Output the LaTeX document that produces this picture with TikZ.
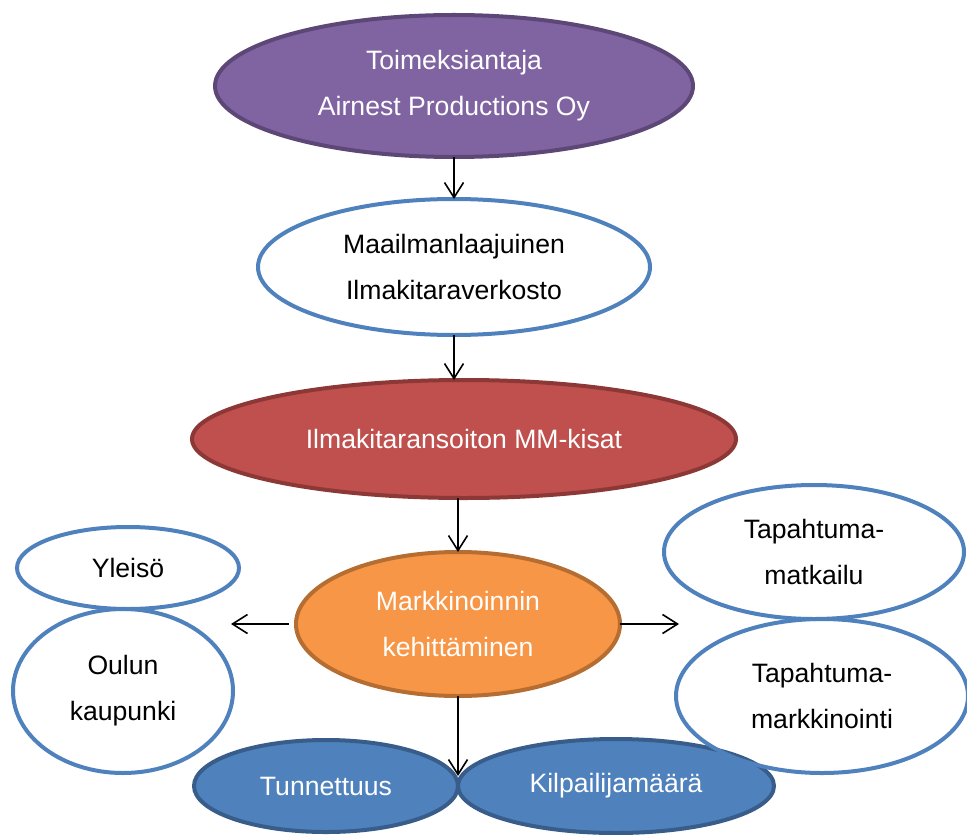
\documentclass[tikz,border=0pt]{standalone}
\usepackage{fontspec}
\setmainfont{Liberation Sans}
\usepackage{tikz}
\usetikzlibrary{positioning, arrows.meta, shapes.geometric}

\definecolor{purplefill}{HTML}{8064A2}
\definecolor{purpleline}{HTML}{5C4776}
\definecolor{wordblue}{HTML}{4F81BD}
\definecolor{darkblue}{HTML}{385D8A}
\definecolor{redfill}{HTML}{C0504D}
\definecolor{redline}{HTML}{8C3836}
\definecolor{orangefill}{HTML}{F79646}
\definecolor{orangeline}{HTML}{B66D31}

\begin{document}
\begin{tikzpicture}[
            x=0.5pt, y=-0.5pt,
            bubble/.style={ellipse, line width=2pt, inner sep=0pt, outer sep=0pt, align=center, font=\fontsize{13.3}{23}\selectfont},
            client/.style={bubble, fill=purplefill, draw=purpleline, text=white},
            plain/.style={bubble, draw=wordblue, text=black},
            event/.style={bubble, fill=redfill, draw=redline, text=white},
            core/.style={bubble, fill=orangefill, draw=orangeline, text=white},
            result/.style={bubble, fill=wordblue, draw=darkblue, text=white},
            link/.style={-{Straight Barb[length=7.5pt, width=9.5pt]}, line width=0.8pt}
        ]
            \useasboundingbox (0,0) rectangle (967,834);

            % --- main chain ---
            \node[client, minimum width=239pt, minimum height=71pt] (toim) at (454,86) {Toimeksiantaja\\Airnest Productions Oy};
            \node[plain, minimum width=196pt, minimum height=68pt, below=21pt of toim] (verk) {Maailmanlaajuinen\\Ilmakitaraverkosto};
            \node[event, minimum width=272pt, minimum height=59pt, below=22.5pt of verk, xshift=5pt] (kisat) {Ilmakitaransoiton MM-kisat};
            \node[core, minimum width=162pt, minimum height=72pt, below=27pt of kisat, xshift=-3pt] (mark) {Markkinoinnin\\kehittäminen};

            % --- bottom results ---
            \node[result, minimum width=132pt, minimum height=46pt] (tunn) at (326,786) {Tunnettuus};
            \node[result, minimum width=158pt, minimum height=47pt, right=0pt of tunn] (kilp) {Kilpailijamäärä};

            % --- side groups ---
            \node[plain, minimum width=111pt, minimum height=41pt] (yleiso) at (128,568) {Yleisö};
            \node[plain, minimum width=110pt, minimum height=82pt, below=0pt of yleiso, xshift=-2.5pt] (oulu) {Oulun\\kaupunki};
            \node[plain, minimum width=150pt, minimum height=67pt] (matk) at (814,552) {Tapahtuma-\\matkailu};
            \node[plain, minimum width=146pt, minimum height=77pt, below=0pt of matk, xshift=4pt] (tmark) {Tapahtuma-\\markkinointi};

            % --- arrows ---
            \coordinate[left=32.5pt of mark.west] (lt);
            \coordinate[right=29.5pt of mark.east] (rt);
            \coordinate[above=5pt of tunn.east] (dn);

            \draw[link] (toim.south) -- (toim.south |- verk.north);
            \draw[link] (verk.south) -- (verk.south |- kisat.north);
            \draw[link] (kisat.south -| mark.north) -- (mark.north);
            \draw[link] ([xshift=-3.5pt]mark.west) -- (lt);
            \draw[link] (mark.east) -- (rt);
            \draw[link] (mark.south) -- (mark.south |- dn);

        \end{tikzpicture}
\end{document}
